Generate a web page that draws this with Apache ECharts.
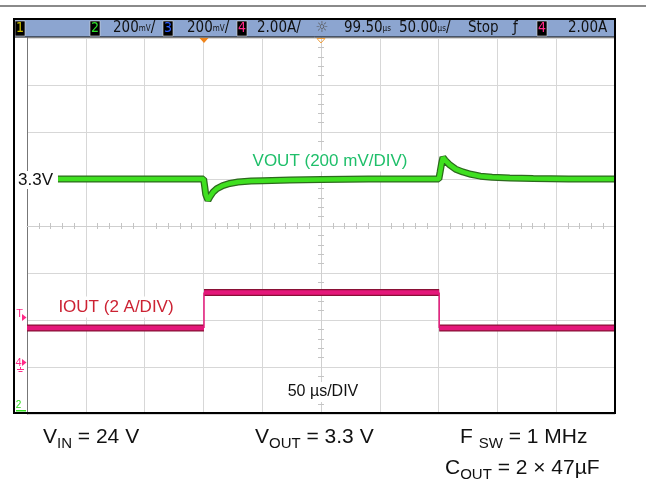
<!DOCTYPE html>
<html><head><meta charset="utf-8">
<script src="https://cdn.jsdelivr.net/npm/echarts@6/dist/echarts.min.js"></script>
<style>html,body{margin:0;padding:0;background:#fff}#c{width:646px;height:479px}</style>
</head><body><div id="c"></div>
<script>
// time in µs relative to trigger (screen centre = 99.5 µs delay, 50 µs/div)
const voutTime = [-150.5, -0.3, 0.6, 1.5, 3.4, 5, 7.7, 11, 16, 22, 29, 40, 50, 73, 100, 140, 199.7, 200.8, 202, 203.2, 205, 209, 214, 220, 227, 235, 245, 260, 280, 310, 349.5];
// VOUT deviation from 3.3 V in mV (200 mV/div)
const voutMv = [0, 0, -32, -66, -90, -76, -56, -41, -28, -19, -13, -9, -7, -4, -2, 0, 0, 30, 65, 92, 80, 60, 42, 30, 20, 12, 7, 4, 2, 0, 0];
// IOUT in A (2 A/div)
const ioutTime = [-150.5, 0, 0, 200, 200, 349.5];
const ioutAmp = [1.66, 1.66, 3.17, 3.17, 1.66, 1.66];
const triggerLevelA = 2.0;

const hdrBoxes = [
  {x: 15, d: '1', c: '#cfc200'},
  {x: 90, d: '2', c: '#2fe02a'},
  {x: 163, d: '3', c: '#2b5cff'},
  {x: 237, d: '4', c: '#ff2a88'},
  {x: 537, d: '4', c: '#ff2a88'}
];
const hdrTexts = [
  {x: 113, t: '{n|200}{s|mV}{n|/}'},
  {x: 187, t: '{n|200}{s|mV}{n|/}'},
  {x: 257, t: '{n|2.00A/}'},
  {x: 344, t: '{n|99.50}{s|µs}'},
  {x: 399, t: '{n|50.00}{s|µs}{n|/}'},
  {x: 468, t: '{n|Stop}'},
  {x: 513, t: '{n|ƒ}'},
  {x: 568, t: '{n|2.00A}'}
];

const voutData = voutTime.map((t, i) => [t, voutMv[i]]);
const ioutThick = [], ioutEdges = [];
for (let i = 0; i < ioutTime.length; i++) {
  if (i > 0 && ioutTime[i] === ioutTime[i - 1]) {
    ioutThick.push([ioutTime[i], '-']);
    ioutEdges.push([ioutTime[i - 1], ioutAmp[i - 1]], [ioutTime[i], ioutAmp[i]], [ioutTime[i], '-']);
  }
  ioutThick.push([ioutTime[i], ioutAmp[i]]);
}

const FONT = 'Liberation Sans, Arial, sans-serif';
const NARROW = '"Liberation Sans Narrow", "DejaVu Sans Condensed", sans-serif';
const gridLine = {show: true, lineStyle: {color: '#d7d7d7', width: 1}};
const minor = (len) => ({show: true, splitNumber: 5, length: len, lineStyle: {color: '#c4c4c4', width: 1}});

const chart = echarts.init(document.getElementById('c'), null, {renderer: 'canvas'});
const option = {
  animation: false,
  backgroundColor: '#fff',
  grid: {left: 27, right: 31, top: 38, bottom: 65, containLabel: false},
  xAxis: [
    {type: 'value', min: -5, max: 5, interval: 1, position: 'bottom',
     axisLine: {show: true, onZero: true, onZeroAxisIndex: 0, lineStyle: {color: '#cfcfcf'}},
     axisTick: {show: false}, minorTick: minor(3), axisLabel: {show: false}, splitLine: gridLine},
    {type: 'value', min: -5, max: 5, interval: 1, position: 'top',
     axisLine: {show: false, onZero: true, onZeroAxisIndex: 0},
     axisTick: {show: false}, minorTick: minor(3), axisLabel: {show: false}, splitLine: {show: false}},
    {type: 'value', min: -150.5, max: 349.5, show: false, axisLine: {onZero: false}}
  ],
  yAxis: [
    {type: 'value', min: -4, max: 4, interval: 1, position: 'left',
     axisLine: {show: true, onZero: true, onZeroAxisIndex: 0, lineStyle: {color: '#cfcfcf'}},
     axisTick: {show: false}, minorTick: minor(3), axisLabel: {show: false}, splitLine: gridLine},
    {type: 'value', min: -4, max: 4, interval: 1, position: 'right',
     axisLine: {show: false, onZero: true, onZeroAxisIndex: 0},
     axisTick: {show: false}, minorTick: minor(3), axisLabel: {show: false}, splitLine: {show: false}},
    {type: 'value', min: -1000, max: 600, show: false, axisLine: {onZero: false}},
    {type: 'value', min: -2, max: 14, position: 'left', offset: 0,
     axisLine: {show: true, onZero: false, lineStyle: {color: '#777', width: 1}},
     axisTick: {show: false}, axisLabel: {show: false}, splitLine: {show: false}}
  ],
  series: [
    {name: 'VOUT edge', type: 'line', xAxisIndex: 2, yAxisIndex: 2, data: voutData, showSymbol: false, silent: true,
     lineStyle: {color: '#2c6a1d', width: 7}, z: 3},
    {name: 'VOUT', type: 'line', xAxisIndex: 2, yAxisIndex: 2, data: voutData, showSymbol: false, silent: true,
     lineStyle: {color: '#3fe020', width: 4.5}, z: 4},
    {name: 'IOUT edge', type: 'line', xAxisIndex: 2, yAxisIndex: 3, data: ioutThick, showSymbol: false, silent: true,
     connectNulls: false, lineStyle: {color: '#8a1036', width: 7, cap: 'butt'}, z: 3},
    {name: 'IOUT', type: 'line', xAxisIndex: 2, yAxisIndex: 3, data: ioutThick, showSymbol: false, silent: true,
     connectNulls: false, lineStyle: {color: '#e4177a', width: 4.5, cap: 'butt'}, z: 4},
    {name: 'IOUT step', type: 'line', xAxisIndex: 2, yAxisIndex: 3, data: ioutEdges, showSymbol: false, silent: true,
     connectNulls: false, lineStyle: {color: '#e4177a', width: 1.5}, z: 4}
  ]
};
chart.setOption(option);

const trigX = chart.convertToPixel({xAxisIndex: 2}, 0);
const trigY = chart.convertToPixel({yAxisIndex: 3}, triggerLevelA);
const gndY = chart.convertToPixel({yAxisIndex: 3}, 0);
const centerX = chart.convertToPixel({xAxisIndex: 0}, 0);

const g = [];
g.push({type: 'rect', shape: {x: 0, y: 5, width: 646, height: 2}, style: {fill: '#8a8a8a'}, z: 50});
g.push({type: 'rect', shape: {x: 14, y: 19, width: 601, height: 18}, style: {fill: '#8ca5d0', stroke: '#000', lineWidth: 1}, z: 50});
g.push({type: 'rect', shape: {x: 14, y: 19, width: 601, height: 394}, style: {fill: 'none', stroke: '#000', lineWidth: 2}, z: 60});
hdrBoxes.forEach(b => {
  g.push({type: 'rect', shape: {x: b.x, y: 21, width: 10, height: 15}, style: {fill: '#000', stroke: '#ddd', lineWidth: 0.6}, z: 51});
  g.push({type: 'text', x: b.x + 5, y: 28.5, style: {text: b.d, fill: b.c, font: '14px ' + NARROW, align: 'center', verticalAlign: 'middle'}, z: 52});
});
hdrTexts.forEach(h => {
  g.push({type: 'text', x: h.x, y: 28.5, style: {text: h.t, align: 'left', verticalAlign: 'middle',
    rich: {n: {fontSize: 15, fontFamily: NARROW, fill: '#111'}, s: {fontSize: 8, fontFamily: NARROW, fill: '#111'}}}, z: 52});
});
g.push({type: 'text', x: 322, y: 28, style: {text: '☼', fill: '#555', font: '15px DejaVu Sans', align: 'center', verticalAlign: 'middle'}, z: 52});
// trigger position marker (orange) and delay marker
g.push({type: 'polygon', shape: {points: [[trigX - 4.5, 38], [trigX + 4.5, 38], [trigX, 43]]}, style: {fill: '#f0841a'}, z: 55});
g.push({type: 'polyline', shape: {points: [[centerX - 4, 38.5], [centerX + 4, 38.5], [centerX, 43], [centerX - 4, 38.5]]}, style: {stroke: '#f0a040', lineWidth: 1, fill: 'none'}, z: 55});
// left markers
g.push({type: 'text', x: 19.5, y: trigY - 6, style: {text: 'T', fill: '#ff2a88', font: '11px ' + FONT, align: 'center', verticalAlign: 'middle'}, z: 55});
g.push({type: 'polygon', shape: {points: [[22, trigY - 6], [26.5, trigY - 2.5], [22, trigY + 1]]}, style: {fill: '#ff2a88'}, z: 55});
g.push({type: 'text', x: 18.5, y: gndY - 4, style: {text: '4', fill: '#ff2a88', font: '11px ' + FONT, align: 'center', verticalAlign: 'middle'}, z: 55});
g.push({type: 'polygon', shape: {points: [[22, gndY - 8], [26.5, gndY - 4.5], [22, gndY - 1]]}, style: {fill: '#ff2a88'}, z: 55});
g.push({type: 'polyline', shape: {points: [[20.5, gndY], [20.5, gndY + 2]]}, style: {stroke: '#ff2a88', lineWidth: 1}, z: 55});
g.push({type: 'rect', shape: {x: 17, y: gndY + 2, width: 7, height: 1}, style: {fill: '#ff2a88'}, z: 55});
g.push({type: 'rect', shape: {x: 18.5, y: gndY + 4, width: 4, height: 1}, style: {fill: '#ff2a88'}, z: 55});
g.push({type: 'text', x: 18.5, y: 405, style: {text: '2', fill: '#33dd22', font: '10px ' + FONT, align: 'center', verticalAlign: 'middle'}, z: 55});
g.push({type: 'rect', shape: {x: 16, y: 410, width: 10, height: 1.5}, style: {fill: '#33dd22'}, z: 55});
// in-plot labels
g.push({type: 'text', x: 17, y: 180, style: {text: '3.3V', fill: '#111', font: '17px ' + FONT, align: 'left', verticalAlign: 'middle',
  backgroundColor: '#fff', padding: [1, 5, 0, 1]}, z: 58});
g.push({type: 'text', x: 330, y: 161, style: {text: 'VOUT (200 mV/DIV)', fill: '#1fbf6a', font: '17px ' + FONT, align: 'center', verticalAlign: 'middle',
  backgroundColor: '#fff', padding: [2, 3, 2, 3]}, z: 58});
g.push({type: 'text', x: 116, y: 307, style: {text: 'IOUT (2 A/DIV)', fill: '#cc2233', font: '17px ' + FONT, align: 'center', verticalAlign: 'middle',
  backgroundColor: '#fff', padding: [2, 3, 2, 3]}, z: 58});
g.push({type: 'text', x: 323, y: 392, style: {text: '50 µs/DIV', fill: '#111', font: '16px ' + FONT, align: 'center', verticalAlign: 'middle',
  backgroundColor: '#fff', padding: [2, 3, 2, 3]}, z: 58});
// bottom annotations
const rich = {m: {fontSize: 21, fontFamily: FONT, fill: '#111', padding: [0, 0, 3, 0], verticalAlign: 'bottom'},
              s: {fontSize: 15, fontFamily: FONT, fill: '#111', verticalAlign: 'bottom'}};
[[43, 451, '{m|V}{s|IN}{m| = 24 V}'], [255, 451, '{m|V}{s|OUT}{m| = 3.3 V}'], [460, 451, '{m|F }{s|SW}{m| = 1 MHz}'], [445, 482, '{m|C}{s|OUT}{m| = 2 × 47µF}']]
  .forEach(a => g.push({type: 'text', x: a[0], y: a[1], style: {text: a[2], rich: rich, align: 'left', verticalAlign: 'bottom'}, z: 58}));

chart.setOption({graphic: {elements: g}});
</script></body></html>
